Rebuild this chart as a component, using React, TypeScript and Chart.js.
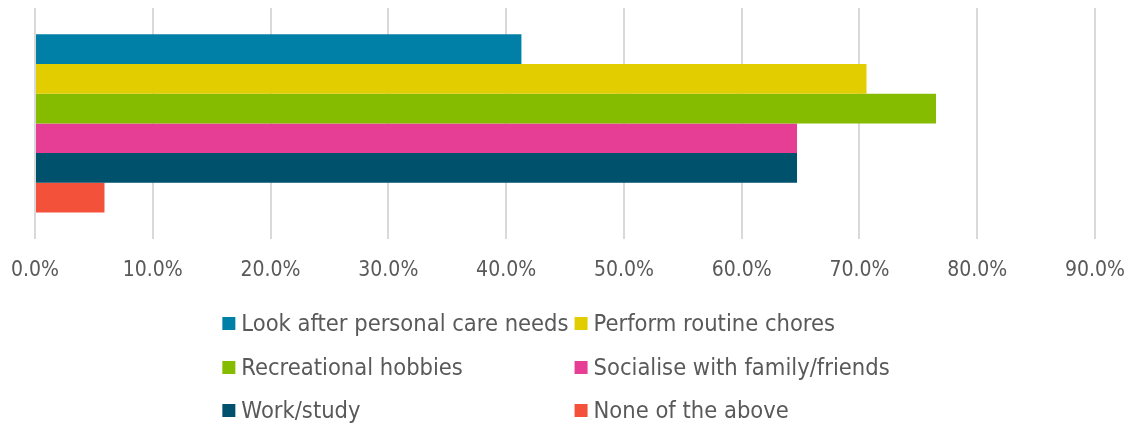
import React, { useEffect, useRef } from "react";
import { Chart, registerables } from "chart.js";

Chart.register(...registerables);

const categories = ["All"];
const seriesNames = [
  "Look after personal care needs",
  "Perform routine chores",
  "Recreational hobbies",
  "Socialise with family/friends",
  "Work/study",
  "None of the above",
];
const seriesValues = [41.3, 70.6, 76.5, 64.7, 64.7, 5.9];
const seriesColors = ["#0080A6", "#E1CD00", "#86BC00", "#E63E95", "#00516C", "#F4513A"];
const tickMin = 0;
const tickMax = 90;
const tickStep = 10;

const FONT_FAMILY = "'DejaVu Sans Condensed', 'DejaVu Sans', sans-serif";
const TEXT_COLOR = "#595959";

const gridLegend = {
  id: "gridLegend",
  afterDraw(chart: any) {
    const ctx = chart.ctx;
    const ds = chart.data.datasets;
    ctx.save();
    ctx.font = `23.5px ${FONT_FAMILY}`;
    ctx.textBaseline = "alphabetic";
    ctx.textAlign = "left";
    const box = 13;
    const gapBox = 6;
    const gapCol = 6;
    const colW = [0, 0];
    ds.forEach((d: any, i: number) => {
      const w = ctx.measureText(d.label).width;
      colW[i % 2] = Math.max(colW[i % 2], w);
    });
    const total = box + gapBox + colW[0] + gapCol + box + gapBox + colW[1];
    const left = (chart.width - total) / 2 - 10;
    const colX = [left, left + box + gapBox + colW[0] + gapCol];
    const baselines = [331, 375, 418];
    ds.forEach((d: any, i: number) => {
      const col = i % 2;
      const row = Math.floor(i / 2);
      const x = colX[col];
      const by = baselines[row];
      ctx.fillStyle = d.backgroundColor;
      ctx.fillRect(x, by - 14, box, box);
      ctx.fillStyle = TEXT_COLOR;
      ctx.fillText(d.label, x + box + gapBox, by);
    });
    ctx.restore();
  },
};

export default function App() {
  const ref = useRef<HTMLCanvasElement | null>(null);
  useEffect(() => {
    document.body.style.overflow = "hidden";
    const canvas = ref.current;
    if (!canvas) return;
    const chart = new Chart(canvas, {
      type: "bar",
      data: {
        labels: categories,
        datasets: seriesNames.map((name, i) => ({
          label: name,
          data: [seriesValues[i]],
          backgroundColor: seriesColors[i],
          borderWidth: 0,
          categoryPercentage: 0.7716,
          barPercentage: 1,
        })),
      },
      options: {
        indexAxis: "y",
        animation: false,
        responsive: false,
        maintainAspectRatio: false,
        layout: { padding: { left: 35, right: 37, top: 8, bottom: 144 } },
        plugins: {
          legend: { display: false },
          tooltip: { enabled: false },
        },
        scales: {
          y: { display: false },
          x: {
            min: tickMin,
            max: tickMax,
            border: { display: false },
            grid: {
              color: "#D9D9D9",
              lineWidth: 2,
              drawTicks: true,
              tickLength: 19,
              tickColor: "rgba(0,0,0,0)",
            },
            ticks: {
              stepSize: tickStep,
              padding: 0,
              color: TEXT_COLOR,
              font: { family: FONT_FAMILY, size: 21 },
              maxRotation: 0,
              autoSkip: false,
              callback: (v: any) => Number(v).toFixed(1) + "%",
            },
          },
        },
      },
      plugins: [gridLegend],
    });
    return () => chart.destroy();
  }, []);
  return (
    <div style={{ position: "fixed", left: 0, top: 0, width: 1132, height: 427, background: "#fff" }}>
      <canvas ref={ref} width={1132} height={427} style={{ width: 1132, height: 427, display: "block" }} />
    </div>
  );
}
